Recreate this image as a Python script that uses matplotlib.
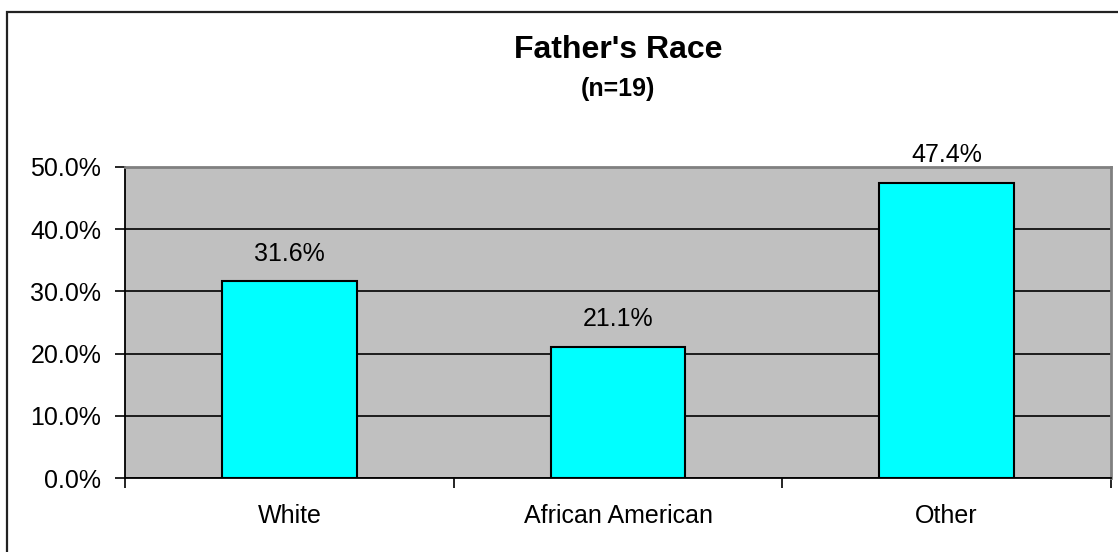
import matplotlib
matplotlib.use("Agg")
import matplotlib.pyplot as plt
from matplotlib.patches import Rectangle
from matplotlib.ticker import FuncFormatter, FixedLocator

# -----------------------------------------------------------------------------
# Data
# -----------------------------------------------------------------------------
categories = ["White", "African American", "Other"]
percentages = [31.6, 21.1, 47.4]
bar_labels = ["31.6%", "21.1%", "47.4%"]
y_ticks = [0, 10, 20, 30, 40, 50]

plt.rcParams["font.family"] = ["Liberation Sans", "DejaVu Sans"]

W, H = 1118, 552
fig = plt.figure(figsize=(W / 100, H / 100), dpi=100)

# Plot area in pixels: left 125, right 1111, top 167, bottom 478
left, right, top, bottom = 125, 1111, 167, 478
ax = fig.add_axes([left / W, (H - bottom) / H, (right - left) / W, (bottom - top) / H])
ax.set_facecolor("#C0C0C0")

x_pos = list(range(len(categories)))
ax.bar(x_pos, percentages, width=0.41, color="#00FFFF", edgecolor="black",
       linewidth=1.5, zorder=3)

# Value labels above the bars
for x, v, lab in zip(x_pos, percentages, bar_labels):
    ax.annotate(lab, (x, v), xytext=(0, 20), textcoords="offset points",
                ha="center", va="center", fontsize=18, color="black", zorder=4)

ax.set_xlim(-0.5, len(categories) - 0.5)
ax.set_ylim(0, 50)
ax.set_yticks(y_ticks)
ax.yaxis.set_major_formatter(FuncFormatter(lambda v, p: f"{v:.1f}%"))
ax.grid(axis="y", color="black", linewidth=1.2, zorder=1)
ax.set_axisbelow(True)

# x ticks sit on category boundaries, labels centred under categories
ax.xaxis.set_major_locator(FixedLocator([-0.5, 0.5, 1.5, 2.5]))
ax.xaxis.set_major_formatter(FuncFormatter(lambda v, p: ""))
ax.xaxis.set_minor_locator(FixedLocator(x_pos))
ax.set_xticklabels(categories, minor=True)
ax.tick_params(axis="x", which="minor", length=0, pad=19, labelsize=18)
ax.tick_params(axis="x", which="major", direction="out", length=7, width=1.2)
ax.tick_params(axis="y", direction="out", length=7, width=1.2, pad=10, labelsize=18)

for side in ["left", "bottom"]:
    ax.spines[side].set_color("black")
    ax.spines[side].set_linewidth(1.3)
for side in ["top", "right"]:
    ax.spines[side].set_color("#808080")
    ax.spines[side].set_linewidth(2)

# Titles
fig.text(0.5 * (left + right) / W, 1 - 50 / H, "Father's Race", ha="center",
         va="center", fontsize=23, fontweight="bold")
fig.text(0.5 * (left + right) / W, 1 - 89 / H, "(n=19)", ha="center",
         va="center", fontsize=18, fontweight="bold")

# Outer chart frame (left and top edges visible, rest cropped)
fig.patches.append(Rectangle((6.5 / W, -0.1), 1.2, (H - 12) / H + 0.1,
                             transform=fig.transFigure, fill=False,
                             edgecolor="#222222", linewidth=1.6))

fig.savefig("out.png", dpi=100)
